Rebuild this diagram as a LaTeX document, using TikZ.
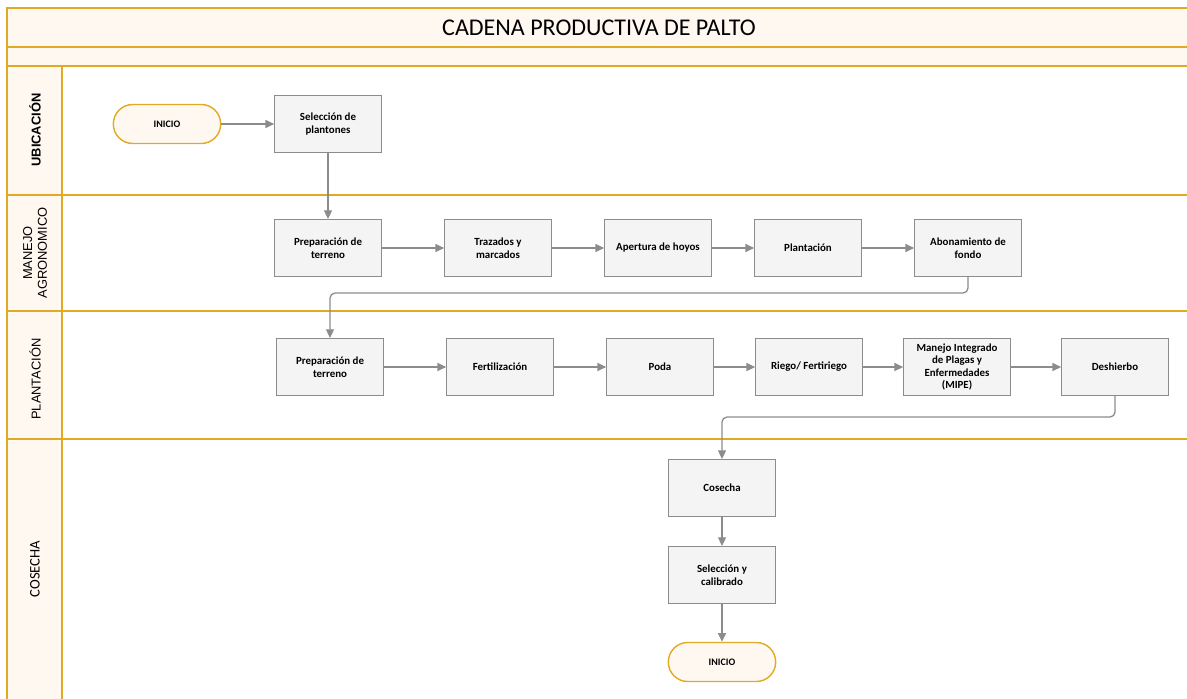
\documentclass[tikz,border=0pt]{standalone}
\usepackage{fontspec}
\setmainfont{Carlito}
\newfontfamily\lanefont{Liberation Sans}
\usetikzlibrary{arrows.meta}

\definecolor{lanegold}{RGB}{226,170,35}
\definecolor{lanecream}{RGB}{255,248,241}
\definecolor{boxgray}{RGB}{140,140,140}
\definecolor{boxfill}{RGB}{244,244,244}

\tikzset{
  proc/.style={draw=boxgray, line width=0.9pt, fill=boxfill, minimum width=3.2cm, minimum height=1.71cm,
    align=center, inner sep=1pt, font=\fontsize{9.3}{11}\selectfont\bfseries},
  term/.style={draw=lanegold, line width=1.2pt, fill=lanecream, rounded corners=0.58cm,
    minimum width=3.22cm, minimum height=1.17cm, font=\fontsize{8.5}{10}\selectfont\bfseries},
  flow/.style={draw=boxgray, line width=1.1pt, -{Triangle[length=2.6mm,width=2.4mm]}},
  lane/.style={draw=lanegold, line width=1.1pt},
  lanelabel/.style={rotate=90, align=center, font=\lanefont\fontsize{11}{12.5}\selectfont},
}

\begin{document}
\begin{tikzpicture}[x=0.03cm, y=-0.03cm]
    \useasboundingbox (0,0) rectangle (1187,698);
    \clip (0,0) rectangle (1187,698);

    % swimlane frame
    \fill [lanecream] (7,8) rectangle (1192,66);
    \fill [lanecream] (7,66) rectangle (62,702);
    \draw [lane] (1192,8) -- (7,8) -- (7,702);
    \draw [lane] (7,47) -- (1192,47);
    \draw [lane] (7,66) -- (1192,66);
    \draw [lane] (62,66) -- (62,702);
    \draw [lane] (7,195) -- (1192,195);
    \draw [lane] (7,311) -- (1192,311);
    \draw [lane] (7,439) -- (1192,439);

    \node (title) at (599,28) {\fontsize{20.5}{24}\selectfont CADENA PRODUCTIVA DE PALTO};
    \node [lanelabel] (ubicacion) at (35,130) {\bfseries UBICACIÓN};
    \node [lanelabel] (manejo) at (35,253) {MANEJO\\AGRONOMICO};
    \node [lanelabel] (plantacion) at (35,379) {PLANTACIÓN};
    \node [lanelabel, font=\fontsize{12.5}{14}\selectfont] (cosecha lane) at (35,569) {COSECHA};

    % nodes
    \node [term] (inicio) at (167,124) {INICIO};
    \node [proc] (selplant) at (328,124) {Selección de\\plantones};

    \node [proc] (prepA) at (328,248) {Preparación de\\terreno};
    \node [proc] (trazado) at (498,248) {Trazados y\\marcados};
    \node [proc] (hoyos) at (658,248) {Apertura de hoyos};
    \node [proc] (plantac) at (808,248) {Plantación};
    \node [proc] (abono) at (968,248) {Abonamiento de\\fondo};

    \node [proc] (prepB) at (330,367) {Preparación de\\terreno};
    \node [proc] (fert) at (500,367) {Fertilización};
    \node [proc] (poda) at (660,367) {Poda};
    \node [proc] (riego) at (809,367) {Riego/ Fertiriego};
    \node [proc, font=\fontsize{9.3}{10.4}\selectfont\bfseries] (mipe) at (957,367) {Manejo Integrado\\de Plagas y\\Enfermedades\\(MIPE)};
    \node [proc] (deshierbo) at (1115,367) {Deshierbo};

    \node [proc] (cosecha) at (722,488) {Cosecha};
    \node [proc] (calibrado) at (722,575) {Selección y\\calibrado};
    \node [term] (final) at (722,662) {INICIO};

    % connectors
    \draw [flow] (inicio) -- (selplant);
    \draw [flow] (selplant) -- (prepA);
    \draw [flow] (prepA) -- (trazado);
    \draw [flow] (trazado) -- (hoyos);
    \draw [flow] (hoyos) -- (plantac);
    \draw [flow] (plantac) -- (abono);
    \draw [flow, rounded corners=0.15cm] (abono.south) -- ++(0,16) -| (prepB.north);
    \draw [flow] (prepB) -- (fert);
    \draw [flow] (fert) -- (poda);
    \draw [flow] (poda) -- (riego);
    \draw [flow] (riego) -- (mipe);
    \draw [flow] (mipe) -- (deshierbo);
    \draw [flow, rounded corners=0.15cm] (deshierbo.south) -- ++(0,21) -| (cosecha.north);
    \draw [flow] (cosecha) -- (calibrado);
    \draw [flow] (calibrado) -- (final);
  \end{tikzpicture}
\end{document}
